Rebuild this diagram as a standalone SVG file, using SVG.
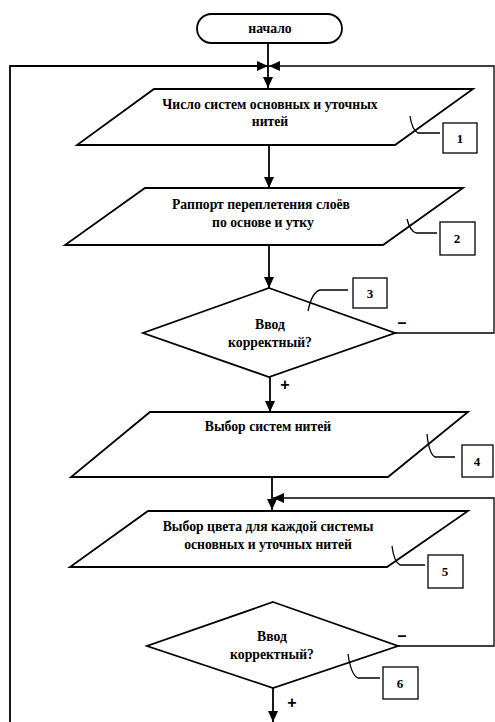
<svg xmlns="http://www.w3.org/2000/svg" width="495" height="722" viewBox="0 0 495 722">
<defs>
<marker id="ah" markerUnits="userSpaceOnUse" markerWidth="12" markerHeight="12" viewBox="0 0 12 12" refX="11" refY="6" orient="auto">
<path d="M0,1 L11,6 L0,11 Z" fill="#000"/>
</marker>
<style>
.s{fill:#fff;stroke:#000;stroke-width:1.8}
.c{fill:none;stroke:#000;stroke-width:1.8}
.b{fill:none;stroke:#000;stroke-width:1.3}
.t{font-family:"Liberation Serif","Times New Roman",serif;font-weight:bold;font-size:13.7px;fill:#000;text-anchor:middle}
.n{font-family:"Liberation Serif","Times New Roman",serif;font-weight:bold;font-size:13px;fill:#000;text-anchor:middle}
.k{font-family:"Liberation Sans",Arial,sans-serif;font-weight:bold;font-size:16px;fill:#000;text-anchor:middle}
</style>
</defs>
<rect width="495" height="722" fill="#fff"/>
<g id="connectors">
<path class="c" d="M268 43 V88" marker-end="url(#ah)"/>
<path class="b" d="M395 333 H494 V66 H269" marker-end="url(#ah)"/>
<path class="c" d="M10 722 V66 H268" marker-end="url(#ah)"/>
<path class="c" d="M269 145 V188" marker-end="url(#ah)"/>
<path class="c" d="M269 245 V288" marker-end="url(#ah)"/>
<path class="c" d="M270 377 V412" marker-end="url(#ah)"/>
<path class="c" d="M272 477 V510" marker-end="url(#ah)"/>
<path class="b" d="M398 646 H494 V498 H273" marker-end="url(#ah)"/>
<path class="c" d="M273 688 V722" marker-end="url(#ah)"/>
<text class="k" x="402" y="328">–</text>
<text class="k" x="285" y="390">+</text>
<text class="k" x="402" y="641">–</text>
<text class="k" x="292" y="708">+</text>
</g>
<g id="start">
<rect class="s" x="197" y="14" width="145" height="29" rx="14.5"/>
<text class="t" x="270" y="33">начало</text>
</g>
<g id="n1">
<polygon class="s" points="154,89 473,89 395,145 77,145"/>
<text class="t" x="270" y="109">Число систем основных и уточных</text>
<text class="t" x="270" y="126">нитей</text>
<path class="b" d="M410 116 Q412 130 418 133 H440"/>
<rect class="b" x="443" y="123" width="34" height="30"/>
<text class="n" x="460" y="143">1</text>
</g>
<g id="n2">
<polygon class="s" points="145,188 463,188 383,245 65,245"/>
<text class="t" x="261" y="209">Раппорт переплетения слоёв</text>
<text class="t" x="263" y="227">по основе и утку</text>
<path class="b" d="M407 219 Q410 231 416 233 H437"/>
<rect class="b" x="440" y="222" width="35" height="33"/>
<text class="n" x="457" y="243">2</text>
</g>
<g id="n3">
<polygon class="s" points="269,288 395,333 269,377 143,333"/>
<text class="t" x="270" y="329">Ввод</text>
<text class="t" x="270" y="347">корректный?</text>
<path class="b" d="M308 311 Q312 292 320 290 H348"/>
<rect class="b" x="353" y="278" width="34" height="30"/>
<text class="n" x="370" y="298">3</text>
</g>
<g id="n4">
<polygon class="s" points="150,412 468,412 388,477 71,477"/>
<text class="t" x="268" y="431">Выбор систем нитей</text>
<path class="b" d="M427 434 Q429 454 435 457 H455"/>
<rect class="b" x="462" y="445" width="31" height="32"/>
<text class="n" x="477" y="466">4</text>
</g>
<g id="n5">
<polygon class="s" points="148,511 468,511 387,567 70,567"/>
<text class="t" x="268" y="531">Выбор цвета для каждой системы</text>
<text class="t" x="268" y="549">основных и уточных нитей</text>
<path class="b" d="M392 546 Q394 562 400 565 H425"/>
<rect class="b" x="428" y="555" width="35" height="33"/>
<text class="n" x="445" y="576">5</text>
</g>
<g id="n6">
<polygon class="s" points="273,602 398,646 273,688 147,646"/>
<text class="t" x="272" y="641">Ввод</text>
<text class="t" x="272" y="659">корректный?</text>
<path class="b" d="M348 654 Q351 675 358 678 H380"/>
<rect class="b" x="383" y="667" width="35" height="32"/>
<text class="n" x="400" y="688">6</text>
</g>
</svg>
